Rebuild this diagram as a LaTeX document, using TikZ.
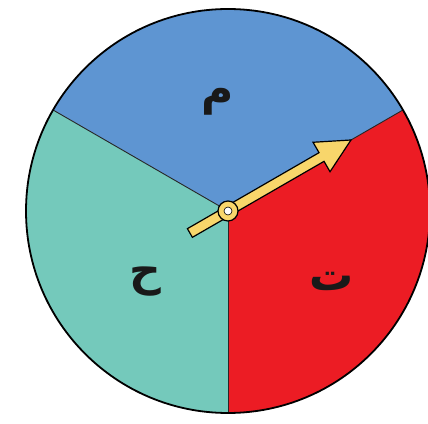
\documentclass[tikz,border=0pt]{standalone}
\usepackage{fontspec}
\newfontfamily\arabicfont[Script=Arabic]{DejaVu Sans}
\TeXXeTstate=1
\usetikzlibrary{calc}
\definecolor{sblue}{HTML}{5E95D2}
\definecolor{steal}{HTML}{74C9BB}
\definecolor{sred}{HTML}{EC1C24}
\definecolor{syellow}{HTML}{F8D66B}
\tikzset{
  sector/.style={draw=black!85, line width=0.9pt},
  lbl/.style={font=\arabicfont\bfseries\fontsize{44}{52}\selectfont, text=black!90, inner sep=0pt},
}
\begin{document}
\begin{tikzpicture}[x=1pt,y=1pt]
\useasboundingbox (0,0) rectangle (428,423);
\coordinate (C) at (228,212);
\def\R{202}
\fill[sblue] (C) -- ++(30:\R) arc[start angle=30,end angle=150,radius=\R] -- cycle;
\fill[steal] (C) -- ++(150:\R) arc[start angle=150,end angle=270,radius=\R] -- cycle;
\fill[sred] (C) -- ++(270:\R) arc[start angle=270,end angle=390,radius=\R] -- cycle;
\coordinate (e1) at ($(C)+(30:\R)$);
\coordinate (e2) at ($(C)+(150:\R)$);
\coordinate (e3) at ($(C)+(270:\R)$);
\draw[sector] (C) -- (e1);
\draw[sector] (C) -- (e2);
\draw[sector] (C) -- (e3);
\draw[black, line width=1.8pt] (C) circle[radius=\R];
\node[lbl] (m) at (218,321) {\beginR م\endR};
\node[lbl] (h) at (145,141) {\beginR ح\endR};
\node[lbl] (t) at (332,142) {\beginR ت\endR};
% pointer
\draw[black, line width=1.2pt, fill=syellow, line join=miter]
  ($(C)+(210:44)+(120:5)$) --
  ($(C)+(30:108)+(120:5)$) --
  ($(C)+(30:108)+(120:17)$) --
  ($(C)+(30:142)$) --
  ($(C)+(30:108)+(300:17)$) --
  ($(C)+(30:108)+(300:5)$) --
  ($(C)+(210:44)+(300:5)$) -- cycle;
\node[circle, draw=black, line width=1.2pt, fill=syellow, minimum size=20pt, inner sep=0pt] (hub) at (C) {};
\node[circle, draw=black, line width=0.6pt, fill=white, minimum size=8pt, inner sep=0pt] (pin) at (C) {};
\end{tikzpicture}
\end{document}
